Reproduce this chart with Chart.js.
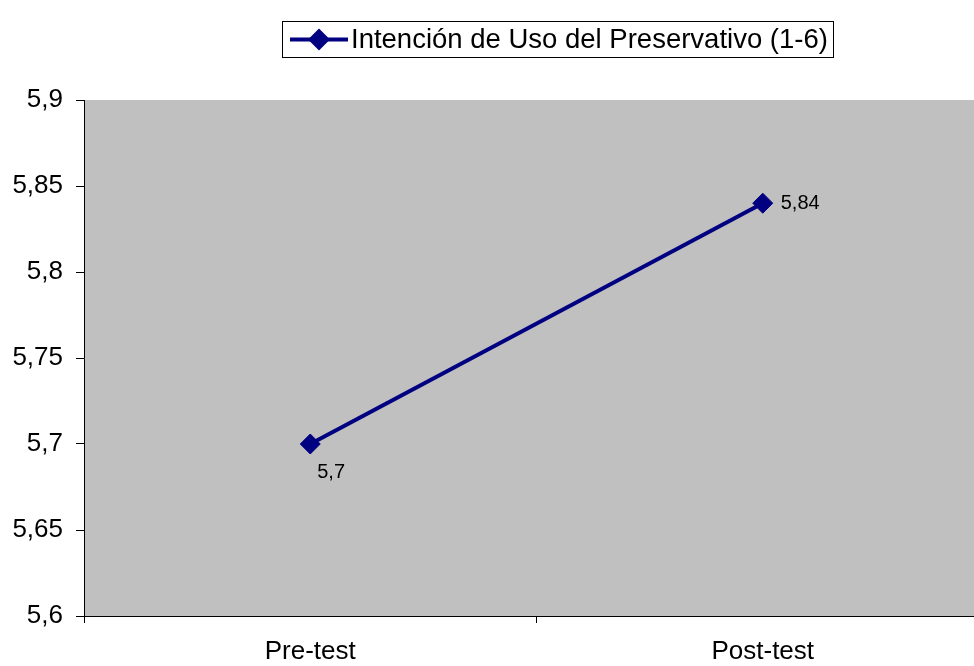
<!DOCTYPE html>
<html>
 <head>
  <title>Intención de Uso del Preservativo</title>
  <style>
  body {
   margin: 0;
   overflow: hidden;
   background: #fff;
  }
  #wrap {
   width: 1000px;
   height: 666px;
  }
  </style>
 </head>
 <body>
 <div id="wrap"><canvas id="chart"></canvas></div>
 <script src="https://cdn.jsdelivr.net/npm/chart.js@4"></script>
 <script type="text/javascript">
 // Data
 const categories = ['Pre-test', 'Post-test'];
 const intencion = [5.7, 5.84];
 const seriesLabel = 'Intención de Uso del Preservativo (1-6)';
 const yTickLabels = ['5,6', '5,65', '5,7', '5,75', '5,8', '5,85', '5,9'];

 const NAVY = '#000080';
 const FONT = '"Liberation Sans", Arial, sans-serif';

 // Gray plot background
 const plotBg = {
  id: 'plotBg',
  beforeDraw(chart) {
   const a = chart.chartArea, ctx = chart.ctx;
   ctx.save();
   ctx.fillStyle = '#C0C0C0';
   ctx.fillRect(a.left, a.top, a.right - a.left, a.bottom - a.top);
   ctx.restore();
  }
 };

 // Value labels next to the points
 const valueLabels = {
  id: 'valueLabels',
  afterDatasetsDraw(chart) {
   const ctx = chart.ctx;
   const pts = chart.getDatasetMeta(0).data;
   ctx.save();
   ctx.font = '20px ' + FONT;
   ctx.fillStyle = '#000';
   ctx.textAlign = 'left';
   ctx.textBaseline = 'middle';
   pts.forEach((p, i) => {
    const txt = String(intencion[i]).replace('.', ',');
    if (i === 0) ctx.fillText(txt, p.x + 7, p.y + 28);
    else ctx.fillText(txt, p.x + 18, p.y);
   });
   ctx.restore();
  }
 };

 // Boxed legend at the top
 const boxLegend = {
  id: 'boxLegend',
  afterDraw(chart) {
   const ctx = chart.ctx;
   ctx.save();
   ctx.strokeStyle = '#000';
   ctx.lineWidth = 1;
   ctx.strokeRect(282.5, 21.5, 551, 36);
   ctx.strokeStyle = NAVY;
   ctx.lineWidth = 4;
   ctx.beginPath();
   ctx.moveTo(290, 39.5);
   ctx.lineTo(348, 39.5);
   ctx.stroke();
   ctx.fillStyle = NAVY;
   ctx.beginPath();
   ctx.moveTo(308, 39.5);
   ctx.lineTo(319, 28.5);
   ctx.lineTo(330, 39.5);
   ctx.lineTo(319, 50.5);
   ctx.closePath();
   ctx.fill();
   ctx.fillStyle = '#000';
   ctx.font = '27.5px ' + FONT;
   ctx.textBaseline = 'middle';
   ctx.fillText(seriesLabel, 351, 40);
   ctx.restore();
  }
 };

 const ctx = document.getElementById('chart').getContext('2d');
 const chart = new Chart(ctx, {
  type: 'line',
  data: {
   labels: categories,
   datasets: [{
    label: seriesLabel,
    data: intencion,
    borderColor: NAVY,
    borderWidth: 4,
    pointStyle: 'rectRot',
    pointRadius: 10,
    pointBackgroundColor: NAVY,
    pointBorderColor: NAVY,
    pointBorderWidth: 1,
    fill: false,
    tension: 0
   }]
  },
  options: {
   responsive: true,
   maintainAspectRatio: false,
   animation: false,
   layout: {
    padding: { top: 100, right: 10, left: 0, bottom: 0 }
   },
   plugins: {
    legend: { display: false },
    tooltip: { enabled: false }
   },
   scales: {
    x: {
     offset: true,
     grid: {
      offset: true,
      drawOnChartArea: false,
      drawTicks: true,
      tickLength: 7,
      color: '#000'
     },
     border: { color: '#000', width: 1 },
     ticks: {
      color: '#000',
      padding: 13,
      maxRotation: 0,
      font: { family: FONT, size: 26 }
     },
     afterFit(scale) { scale.height = 50; }
    },
    y: {
     min: 5.6,
     max: 5.9,
     grid: {
      drawOnChartArea: false,
      drawTicks: true,
      tickLength: 8,
      color: '#000'
     },
     border: { color: '#000', width: 1 },
     ticks: {
      stepSize: 0.05,
      color: '#000',
      padding: 13,
      font: { family: FONT, size: 26 },
      callback: (v, i) => yTickLabels[i]
     },
     afterFit(scale) { scale.width = 84; }
    }
   }
  },
  plugins: [plotBg, valueLabels, boxLegend]
 });
 </script>
 </body>
</html>
